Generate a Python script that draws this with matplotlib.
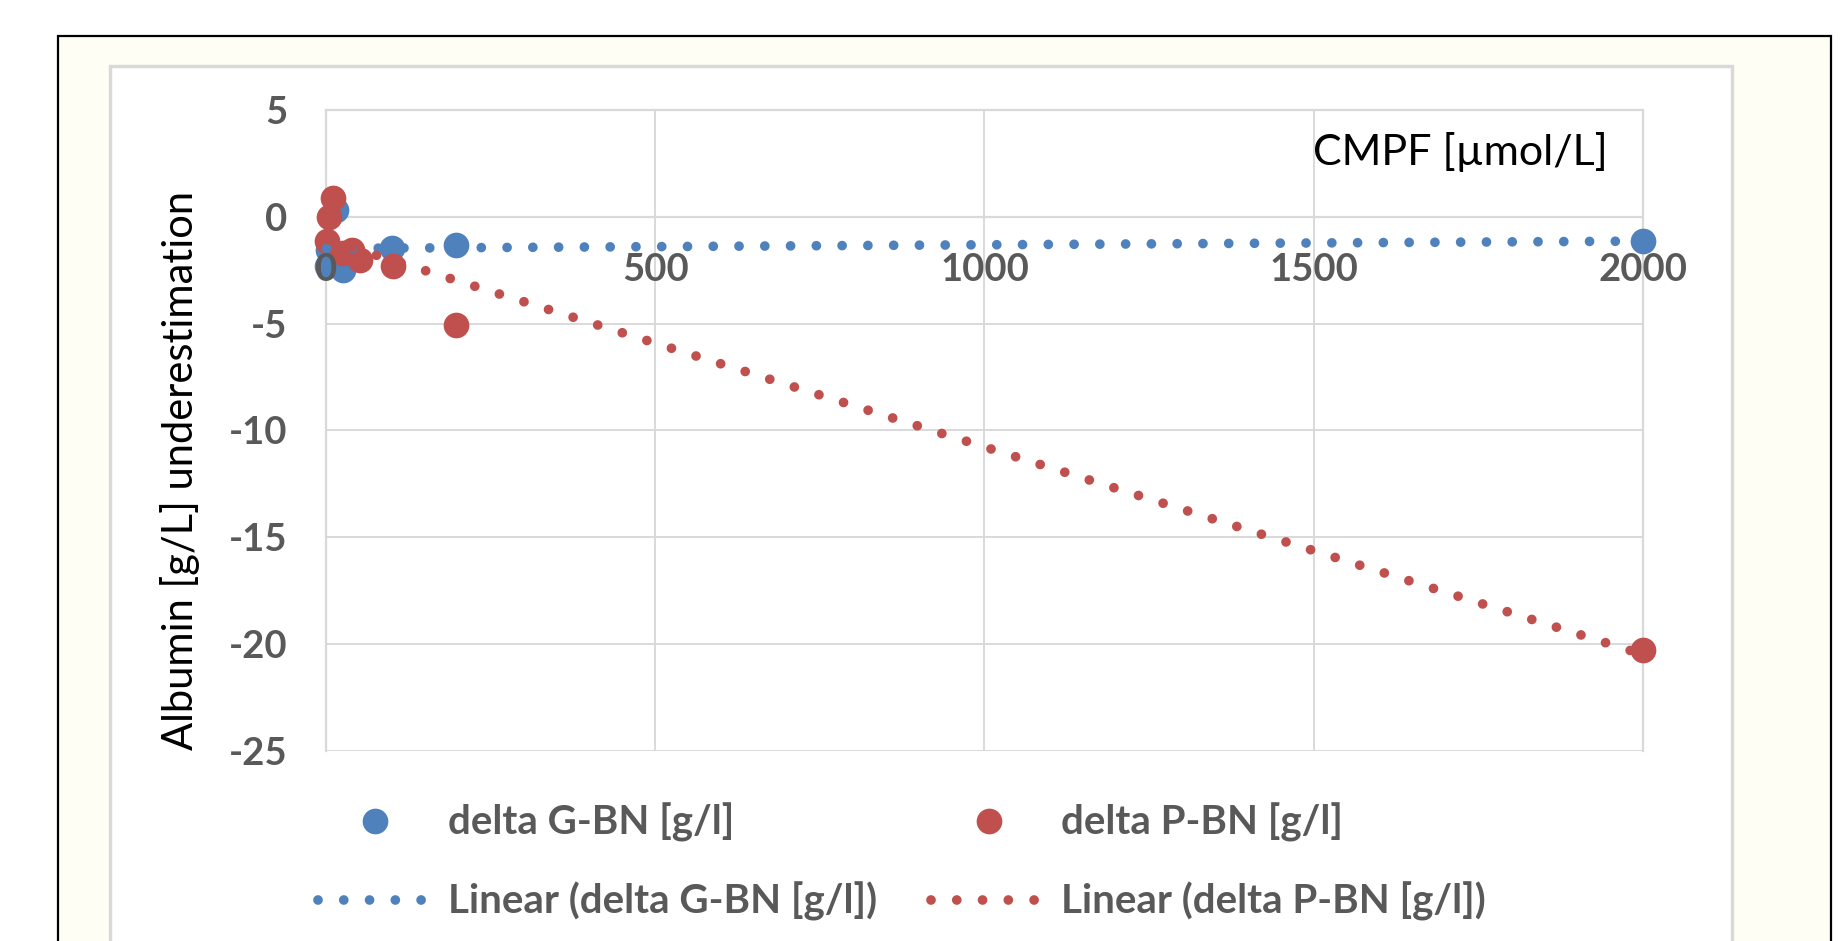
import numpy as np
import matplotlib
matplotlib.use("Agg")
import matplotlib.pyplot as plt
from matplotlib.patches import Rectangle
from matplotlib.lines import Line2D

# ---- data ----
g_x = [1, 3, 15, 26, 100, 198, 2000]
g_y = [-2.3, -1.55, 0.3, -2.5, -1.45, -1.31, -1.15]
p_x = [2, 5, 11, 26, 39, 52, 102, 198, 2000]
p_y = [-1.15, 0.0, 0.87, -1.7, -1.55, -2.0, -2.3, -5.05, -20.26]
x_ticks = [0, 500, 1000, 1500, 2000]
y_ticks = [5, 0, -5, -10, -15, -20, -25]
g_label = "delta G-BN [g/l]"
p_label = "delta P-BN [g/l]"
x_title = "CMPF [µmol/L]"
y_title = "Albumin [g/L] underestimation"

BLUE = "#4F81BD"
RED = "#C0504D"
GRID = "#D9D9D9"
TICK = "#595959"
FONT = ["Lato", "DejaVu Sans"]

plt.rcParams["font.family"] = FONT
plt.rcParams["axes.unicode_minus"] = False

W, H = 1846, 941
fig = plt.figure(figsize=(W / 100, H / 100), dpi=100)
fig.patch.set_facecolor("white")


def box(x0, y0, x1, y1, **kw):
    fig.add_artist(Rectangle((x0 / W, 1 - y1 / H), (x1 - x0) / W, (y1 - y0) / H,
                             transform=fig.transFigure, **kw))


# outer frame and chart area
box(58, 36, 1831, 960, facecolor="#FFFEF5", edgecolor="black", linewidth=1.6, zorder=0)
box(110, 66, 1732, 980, facecolor="white", edgecolor=GRID, linewidth=2.5, zorder=0)

ax = fig.add_axes([326 / W, 1 - 751 / H, (1643 - 326) / W, (751 - 110) / H])
ax.set_facecolor("white")
ax.set_xlim(0, 2000)
ax.set_ylim(-25, 5)
ax.set_xticks(x_ticks)
ax.set_yticks(y_ticks)
ax.set_axisbelow(True)
ax.grid(True, axis="y", color=GRID, linewidth=1.4)
ax.vlines(x_ticks, -25, 5, color=GRID, linewidth=1.4, zorder=0.5)
for s in ["top", "right", "left", "bottom"]:
    ax.spines[s].set_color(GRID)
    ax.spines[s].set_linewidth(1.6)
ax.spines["bottom"].set_position(("data", 0))
ax.tick_params(length=0, labelsize=27.5, labelcolor=TICK)
ax.tick_params(axis="x", pad=26)
ax.tick_params(axis="y", pad=28)
for lab in ax.get_xticklabels() + ax.get_yticklabels():
    lab.set_fontweight("bold")
ax.xaxis.set_zorder(6)

ms = 18.5
ax.plot(g_x, g_y, linestyle="none", marker="o", markersize=ms, color=BLUE,
        markeredgewidth=0, zorder=3, clip_on=False)
ax.plot(p_x, p_y, linestyle="none", marker="o", markersize=ms, color=RED,
        markeredgewidth=0, zorder=4, clip_on=False)

# linear trendlines (least squares, as Excel does)
dot_lw = 7.0
dots = (0, (0.001, 2.65))
for xs, ys, c in [(g_x, g_y, BLUE), (p_x, p_y, RED)]:
    k, b = np.polyfit(xs, ys, 1)
    xx = np.array([min(xs), max(xs)])
    ax.plot(xx, k * xx + b, color=c, linewidth=dot_lw, linestyle=dots,
            dash_capstyle="round", zorder=5, clip_on=False)

fig.text(1313 / W, 1 - 152 / H, x_title, fontsize=31, color="black",
         ha="left", va="center")
fig.text(180 / W, 1 - 470 / H, y_title, fontsize=30, color="black",
         rotation=90, ha="center", va="center")

handles = [
    Line2D([], [], linestyle="none", marker="o", markersize=ms, color=BLUE, markeredgewidth=0),
    Line2D([], [], color=BLUE, linewidth=dot_lw, linestyle=dots, dash_capstyle="round"),
    Line2D([], [], linestyle="none", marker="o", markersize=ms, color=RED, markeredgewidth=0),
    Line2D([], [], color=RED, linewidth=dot_lw, linestyle=dots, dash_capstyle="round"),
]
labels = [g_label, "Linear (" + g_label + ")", p_label, "Linear (" + p_label + ")"]
leg = fig.legend(handles, labels, ncol=2, loc="upper left",
                 bbox_to_anchor=(318 / W, 1 - 803 / H), frameon=False,
                 prop={"family": FONT, "weight": "bold", "size": 29},
                 labelcolor=TICK, handlelength=2.85, handletextpad=0.37,
                 columnspacing=1.35, labelspacing=0.98, borderpad=0,
                 borderaxespad=0, numpoints=1)

fig.savefig("out.png", dpi=100, facecolor="white")
